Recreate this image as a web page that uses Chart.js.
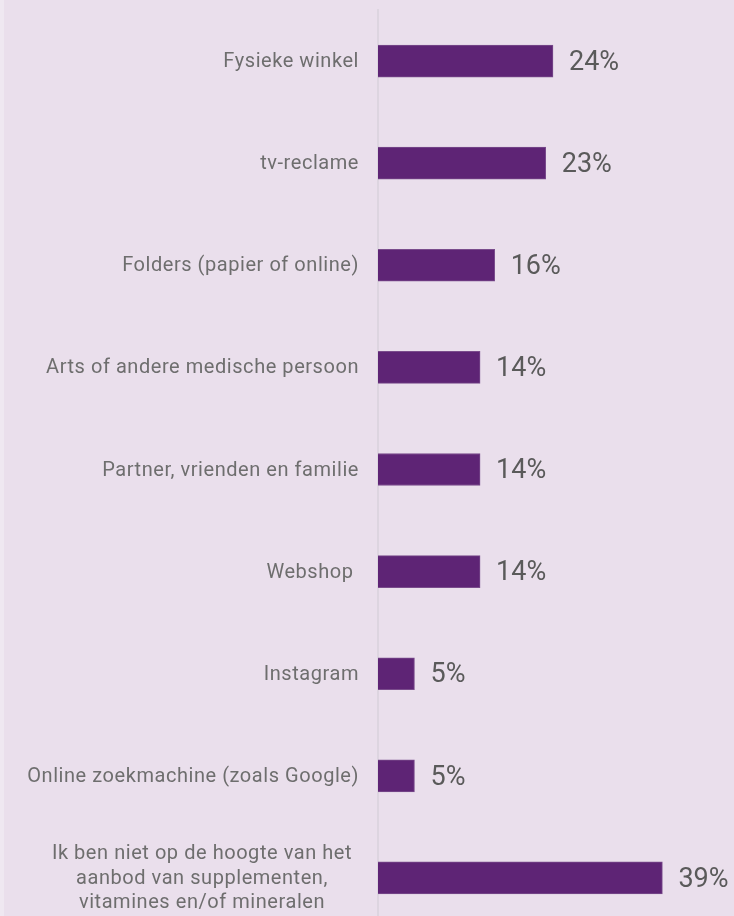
<!DOCTYPE html>
<html>
<head>
<meta charset="utf-8">
<script src="https://cdn.jsdelivr.net/npm/chart.js@4"></script>
<style>
  html, body { margin: 0; padding: 0; width: 734px; height: 916px; overflow: hidden; background: #EFE8F1; }
  #wrap { position: absolute; left: 4px; top: 0; width: 730px; height: 930px; background: #EADFEC; }
</style>
</head>
<body>
<div id="wrap"><canvas id="c"></canvas></div>
<script>
// Information sources for supplements (share of respondents, %)
const categories = [
  'Fysieke winkel',
  'tv-reclame',
  'Folders (papier of online)',
  'Arts of andere medische persoon',
  'Partner, vrienden en familie',
  'Webshop ',
  'Instagram',
  'Online zoekmachine (zoals Google)',
  ['Ik ben niet op de hoogte van het', 'aanbod van supplementen,', 'vitamines en/of mineralen']
];
const shares = [24, 23, 16, 14, 14, 14, 5, 5, 39];
const valueSuffix = '%';

const LABEL_FONT = '20px Roboto';
const VALUE_FONT = '27px Roboto';

// Category labels: single lines right-aligned next to the axis, wrapped labels centred
const categoryLabels = {
  id: 'categoryLabels',
  afterDraw(chart) {
    const { ctx } = chart;
    const y = chart.scales.y;
    const rightX = y.right - 19;
    const centerX = rightX - 157;
    const lineH = 24.5;
    ctx.save();
    ctx.font = LABEL_FONT;
    ctx.letterSpacing = '0.55px';
    ctx.fillStyle = '#6E6E6E';
    ctx.textBaseline = 'middle';
    categories.forEach((lab, i) => {
      const lines = Array.isArray(lab) ? lab : [lab];
      const yc = y.getPixelForValue(i) + 1;
      lines.forEach((ln, j) => {
        const yy = yc + (j - (lines.length - 1) / 2) * lineH;
        if (lines.length > 1) {
          ctx.textAlign = 'center';
          ctx.fillText(ln, centerX, yy);
        } else {
          ctx.textAlign = 'right';
          ctx.fillText(ln, rightX, yy);
        }
      });
    });
    ctx.restore();
  }
};

// Value labels at the end of each bar
const valueLabels = {
  id: 'valueLabels',
  afterDatasetsDraw(chart) {
    const { ctx } = chart;
    const meta = chart.getDatasetMeta(0);
    ctx.save();
    ctx.font = VALUE_FONT;
    ctx.fillStyle = '#5A5A5A';
    ctx.textAlign = 'left';
    ctx.textBaseline = 'middle';
    meta.data.forEach((bar, i) => {
      ctx.fillText(shares[i] + valueSuffix, bar.x + 16, bar.y + 2);
    });
    ctx.restore();
  }
};

new Chart(document.getElementById('c'), {
  type: 'bar',
  data: {
    labels: categories,
    datasets: [{
      data: shares,
      backgroundColor: '#5E2475',
      borderColor: '#7A4C8C',
      borderWidth: 1,
      barThickness: 32
    }]
  },
  options: {
    indexAxis: 'y',
    responsive: true,
    maintainAspectRatio: false,
    animation: false,
    layout: { padding: { top: 10, right: 6, bottom: 1, left: 0 } },
    plugins: {
      legend: { display: false },
      tooltip: { enabled: false }
    },
    scales: {
      x: { min: 0, max: 48, display: false },
      y: {
        grid: { display: false },
        border: { display: true, color: '#DDD5E0', width: 2 },
        ticks: { display: false },
        afterFit(scale) { scale.width = 374; }
      }
    }
  },
  plugins: [categoryLabels, valueLabels]
});
</script>
</body>
</html>
